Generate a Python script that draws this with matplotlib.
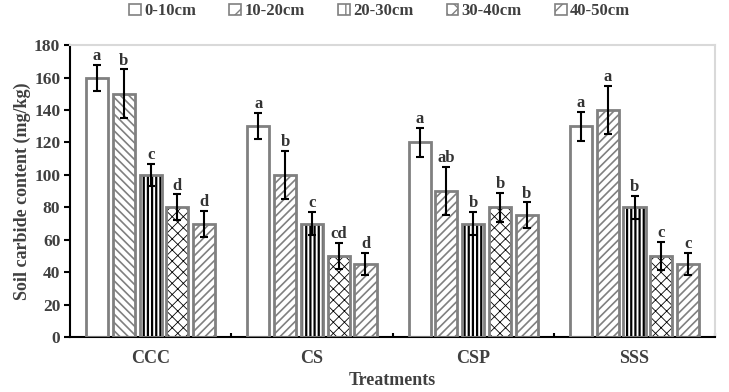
import matplotlib.pyplot as plt
import numpy as np
from matplotlib.patches import Patch

plt.rcParams['font.family'] = 'Liberation Serif'
plt.rcParams['font.weight'] = 'bold'
plt.rcParams['axes.labelweight'] = 'bold'

treatments = ['CCC', 'CS', 'CSP', 'SSS']
depths = ['0-10cm', '10-20cm', '20-30cm', '30-40cm', '40-50cm']

# rows: depth, columns: treatment
means = [
    [160, 130, 120, 130],
    [150, 100, 90, 140],
    [100, 70, 70, 80],
    [80, 50, 80, 50],
    [70, 45, 75, 45],
]
errors = [
    [8, 8, 9, 9],
    [15, 15, 15, 15],
    [7, 7, 7, 7],
    [8, 8, 9, 8.5],
    [8, 7, 8, 7],
]
letters = [
    ['a', 'a', 'a', 'a'],
    ['b', 'b', 'ab', 'a'],
    ['c', 'c', 'b', 'b'],
    ['d', 'cd', 'b', 'c'],
    ['d', 'd', 'b', 'c'],
]

hatches = ['', '////', '||||', 'xxx', '////']
hatch_colors = ['#808080', '#808080', 'black', 'black', '#808080']
hatch_lw = [1.0, 1.2, 1.6, 0.6, 1.2]
text_color = '#404040'

fig, ax = plt.subplots(figsize=(7.29, 3.92), dpi=100)
fig.subplots_adjust(left=0.096, right=0.981, bottom=0.14, top=0.885)

x = np.arange(len(treatments))
step = 0.166
width = 0.137

for i, d in enumerate(depths):
    pos = x + (i - 2) * step
    bars = ax.bar(pos, means[i], width, color='white', edgecolor=hatch_colors[i],
                  hatch=hatches[i], linewidth=0, zorder=2)
    for b in bars:
        if hasattr(b, 'set_hatch_linewidth'):
            b.set_hatch_linewidth(hatch_lw[i])
    if i == 1:
        bars[0].set_hatch('\\\\\\\\')
    ax.bar(pos, means[i], width, color='none', edgecolor='#808080', linewidth=2,
           zorder=3)
    ax.errorbar(pos, means[i], yerr=errors[i], fmt='none', ecolor='black',
                elinewidth=1.5, capsize=3, capthick=1.5, zorder=4)
    for p, m, e, t in zip(pos, means[i], errors[i], letters[i]):
        ax.text(p, m + e + 0.5, t, ha='center', va='bottom', fontsize=12,
                color='#333333', zorder=5)

handles = []
for i, d in enumerate(depths):
    handles.append(Patch(facecolor='white', edgecolor='#808080',
                         hatch=hatches[i][:2], linewidth=1.2, label=d))
ax.legend(handles=handles, loc='lower center', bbox_to_anchor=(0.48, 1.065), ncol=5,
          frameon=False, fontsize=12, handlelength=0.7, handleheight=0.7,
          handletextpad=0.2, columnspacing=2.0, labelcolor=text_color,
          borderaxespad=0)

ax.set_xlim(-0.5, 3.5)
ax.set_ylim(0, 180)
ax.set_yticks(range(0, 181, 20))
ax.set_xticks(x)
ax.set_xticklabels(treatments)
ax.set_xticks([0.5, 1.5, 2.5, 3.5], minor=True)
ax.tick_params(axis='x', which='major', length=0, pad=9, labelsize=13, labelcolor=text_color)
ax.tick_params(axis='x', which='minor', direction='in', length=3, width=1.5)
ax.tick_params(axis='y', direction='out', length=4, width=1.5, labelsize=12.5,
               labelcolor=text_color, pad=3)

for s in ['left', 'bottom']:
    ax.spines[s].set_linewidth(1.5)
    ax.spines[s].set_color('black')
for s in ['top', 'right']:
    ax.spines[s].set_color('#d9d9d9')
    ax.spines[s].set_linewidth(1.5)

ax.set_xlabel('Treatments', fontsize=13, color=text_color, labelpad=4)
ax.set_ylabel('Soil carbide content (mg/kg)', fontsize=13, color=text_color, labelpad=2)

plt.savefig('out.png', dpi=100)
